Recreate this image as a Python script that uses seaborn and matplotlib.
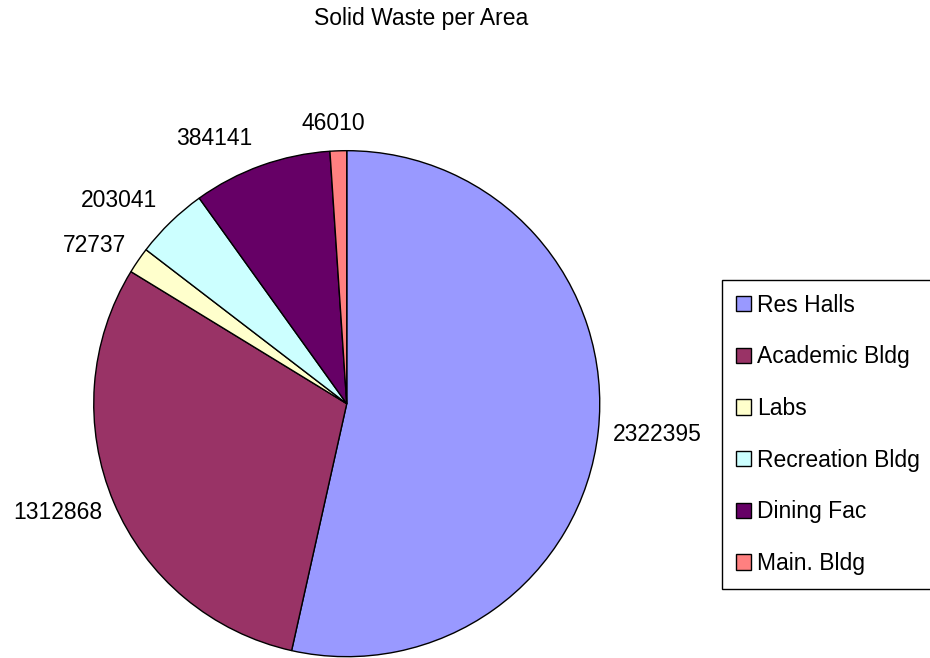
import matplotlib
matplotlib.use("Agg")
import matplotlib.pyplot as plt
import seaborn as sns

areas = ["Res Halls", "Academic Bldg", "Labs", "Recreation Bldg", "Dining Fac", "Main. Bldg"]
waste = [2322395, 1312868, 72737, 203041, 384141, 46010]
colors = ["#9999FF", "#993366", "#FFFFCC", "#CCFFFF", "#660066", "#FF8080"]

# label spots in pie-radius units (Excel-style placement)
label_x = [1.226, -1.143, -0.999, -0.902, -0.525, -0.052]
label_y = [-0.120, -0.432, 0.625, 0.803, 1.048, 1.106]

sns.set_style("white")
plt.rcParams["font.family"] = ["Liberation Sans", "DejaVu Sans"]

fig = plt.figure(figsize=(9.3, 6.58), dpi=100)
ax = fig.add_axes([0.1008, 0.0020, 0.5441, 0.7690])

wedges, _ = ax.pie(waste, colors=colors, startangle=90, counterclock=False,
                   radius=1, wedgeprops=dict(edgecolor="black", linewidth=1))
ax.set_xlim(-1, 1)
ax.set_ylim(-1, 1)
ax.axis("off")

for x, y, v in zip(label_x, label_y, waste):
    ax.text(x, y, str(v), ha="center", va="center", fontsize=16.5, color="black")

fig.text(421.5 / 930, 1 - 19 / 658, "Solid Waste per Area", ha="center", va="center",
         fontsize=16.5, color="black")

leg = fig.legend(wedges, areas, loc="upper left", bbox_to_anchor=(722 / 930, 1 - 280 / 658),
                 fontsize=16.5, frameon=True, fancybox=False, shadow=False,
                 handlelength=0.65, handleheight=0.65, handletextpad=0.28,
                 labelspacing=1.25, borderpad=0.6, borderaxespad=0, labelcolor="black")
leg.get_frame().set_edgecolor("black")
leg.get_frame().set_linewidth(1)
leg.get_frame().set_alpha(1)

fig.savefig("out.png", dpi=100)
